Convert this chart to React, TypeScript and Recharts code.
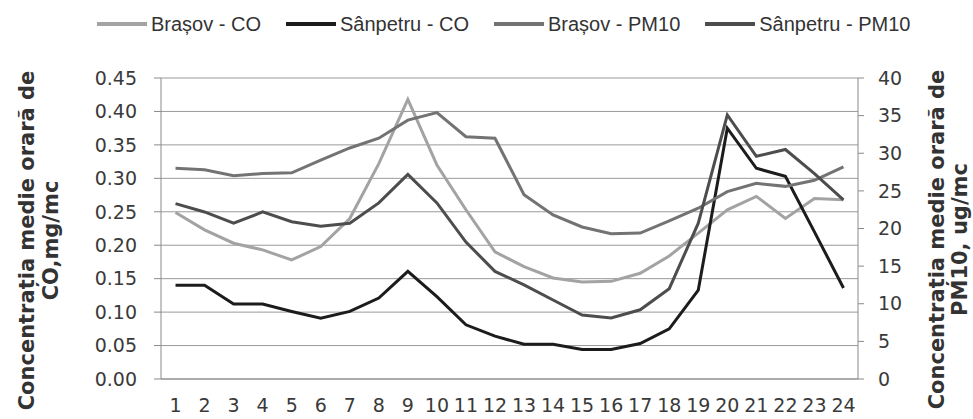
import { LineChart, Line, XAxis, YAxis, CartesianGrid } from 'recharts';

// hour of day
const hours = [1, 2, 3, 4, 5, 6, 7, 8, 9, 10, 11, 12, 13, 14, 15, 16, 17, 18, 19, 20, 21, 22, 23, 24];
// category edges, used only for the tick marks under the axis
const hourEdges = [0.5, 1.5, 2.5, 3.5, 4.5, 5.5, 6.5, 7.5, 8.5, 9.5, 10.5, 11.5, 12.5, 13.5, 14.5, 15.5, 16.5, 17.5, 18.5, 19.5, 20.5, 21.5, 22.5, 23.5, 24.5];

// CO, mg/mc (left axis)
const brasovCO = [0.249, 0.223, 0.203, 0.193, 0.178, 0.198, 0.24, 0.322, 0.418, 0.32, 0.253, 0.19, 0.168, 0.151, 0.145, 0.146, 0.158, 0.184, 0.218, 0.253, 0.273, 0.24, 0.27, 0.268];
const sanpetruCO = [0.14, 0.14, 0.112, 0.112, 0.101, 0.091, 0.101, 0.121, 0.161, 0.123, 0.081, 0.064, 0.052, 0.052, 0.044, 0.044, 0.053, 0.075, 0.133, 0.375, 0.315, 0.303, 0.22, 0.136];

// PM10, ug/mc (right axis)
const brasovPM10 = [28.0, 27.8, 27.0, 27.3, 27.4, 29.1, 30.7, 32.0, 34.4, 35.4, 32.2, 32.0, 24.5, 21.8, 20.2, 19.3, 19.4, 21.0, 22.7, 24.9, 26.0, 25.6, 26.4, 28.2];
const sanpetruPM10 = [23.3, 22.2, 20.7, 22.2, 20.9, 20.3, 20.7, 23.4, 27.2, 23.4, 18.2, 14.3, 12.5, 10.5, 8.5, 8.1, 9.2, 12.0, 20.7, 35.1, 29.6, 30.5, 27.3, 23.8];

const coTicks = [0, 0.05, 0.1, 0.15, 0.2, 0.25, 0.3, 0.35, 0.4, 0.45];
const pmTicks = [0, 5, 10, 15, 20, 25, 30, 35, 40];

const series = [
  { key: 'brasovCO', name: 'Brașov - CO', color: '#a3a3a3', axis: 'co' },
  { key: 'sanpetruCO', name: 'Sânpetru - CO', color: '#1c1c1c', axis: 'co' },
  { key: 'brasovPM10', name: 'Brașov - PM10', color: '#737373', axis: 'pm' },
  { key: 'sanpetruPM10', name: 'Sânpetru - PM10', color: '#4d4d4d', axis: 'pm' },
];

const chartData = hours.map((h, i) => ({
  hour: h,
  brasovCO: brasovCO[i],
  sanpetruCO: sanpetruCO[i],
  brasovPM10: brasovPM10[i],
  sanpetruPM10: sanpetruPM10[i],
}));

const tickStyle = { fill: '#3a3a3a', fontSize: 19, fontFamily: 'DejaVu Sans' };
const axisColor = '#8a8a8a';

/**
 * Two-line rotated axis title
 */
function AxisTitle({ x, y, lines, gap }: { x: number; y: number; lines: string[]; gap: number }) {
  return (
    <text
      x={x}
      y={y}
      transform={`rotate(-90, ${x}, ${y})`}
      textAnchor="middle"
      fill="#333"
      fontSize={21}
      fontWeight="bold"
      fontFamily="DejaVu Sans"
    >
      {lines.map((line, i) => (
        <tspan key={line} x={x} dy={i === 0 ? 0 : gap}>
          {line}
        </tspan>
      ))}
    </text>
  );
}

function ChartLegend() {
  return (
    <div
      style={{
        position: 'absolute',
        top: 13,
        left: 97,
        display: 'flex',
        alignItems: 'center',
        fontFamily: 'Liberation Sans',
        fontSize: 20,
        lineHeight: '23px',
        color: '#333',
        whiteSpace: 'nowrap',
      }}
    >
      {series.map(s => (
        <div key={s.key} style={{ display: 'flex', alignItems: 'center', marginRight: 25 }}>
          <span
            style={{
              display: 'inline-block',
              width: 50,
              height: 4,
              background: s.color,
              marginRight: 4,
              position: 'relative',
              top: -1,
            }}
          />
          <span>{s.name}</span>
        </div>
      ))}
    </div>
  );
}

export default function App() {
  return (
    <div style={{ position: 'absolute', left: 0, top: 0, width: 973, height: 419, background: '#fff' }}>
      <ChartLegend />
      <LineChart
        width={973}
        height={419}
        data={chartData}
        margin={{ top: 78, right: 0, bottom: 0, left: 0 }}
      >
        <CartesianGrid
          xAxisId="edges"
          yAxisId="co"
          vertical={false}
          stroke="#9a9a9a"
          strokeWidth={1}
        />

        <XAxis
          xAxisId="edges"
          type="number"
          dataKey="hour"
          domain={[0.5, 24.5]}
          ticks={hourEdges}
          interval={0}
          tick={false}
          tickSize={6}
          height={6}
          stroke={axisColor}
          allowDataOverflow
        />
        <XAxis
          xAxisId="labels"
          type="number"
          dataKey="hour"
          domain={[0.5, 24.5]}
          ticks={hours}
          interval={0}
          tickLine={false}
          axisLine={false}
          tickSize={0}
          tickMargin={14}
          height={34}
          tick={{ ...tickStyle, fontSize: 19 }}
          allowDataOverflow
        />

        <YAxis
          yAxisId="co"
          domain={[0, 0.45]}
          ticks={coTicks}
          interval={0}
          width={161}
          tickSize={7}
          tickMargin={17}
          stroke={axisColor}
          tick={tickStyle}
          tickFormatter={(v: number) => v.toFixed(2)}
          label={(props: any) => (
            <AxisTitle
              x={props.viewBox.x + 34}
              y={props.viewBox.y + props.viewBox.height / 2 + 12}
              lines={['Concentrația medie orară de', 'CO,mg/mc']}
              gap={24}
            />
          )}
        />
        <YAxis
          yAxisId="pm"
          orientation="right"
          domain={[0, 40]}
          ticks={pmTicks}
          interval={0}
          width={115}
          tickSize={6}
          tickMargin={14}
          stroke={axisColor}
          tick={tickStyle}
          label={(props: any) => (
            <AxisTitle
              x={props.viewBox.x + 86}
              y={props.viewBox.y + props.viewBox.height / 2 + 11}
              lines={['Concentrația medie orară de', 'PM10, ug/mc']}
              gap={23}
            />
          )}
        />

        {series.map(s => (
          <Line
            key={s.key}
            xAxisId="edges"
            yAxisId={s.axis}
            type="linear"
            dataKey={s.key}
            name={s.name}
            stroke={s.color}
            strokeWidth={3}
            dot={false}
            isAnimationActive={false}
          />
        ))}
      </LineChart>
    </div>
  );
}
